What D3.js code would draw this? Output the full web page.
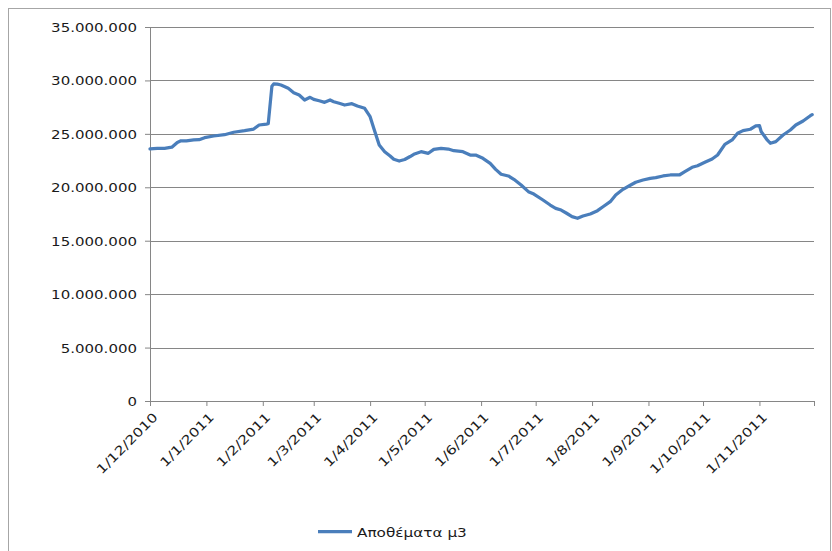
<!DOCTYPE html>
<html>
<head>
<meta charset="utf-8">
<script src="https://cdn.jsdelivr.net/npm/d3@7"></script>
<style>
  html, body { margin: 0; padding: 0; background: #fff; }
  svg { display: block; }
  text { font-family: "DejaVu Sans", sans-serif; fill: #1a1a1a; }
</style>
</head>
<body>
<svg id="chart" width="832" height="551"></svg>
<script>
// Daily reservoir stock (m3), sampled dates
const dates = [
  "2010-12-01","2010-12-05","2010-12-09","2010-12-13","2010-12-16","2010-12-18","2010-12-21","2010-12-25","2010-12-28","2010-12-31",
  "2011-01-05","2011-01-11","2011-01-16","2011-01-22","2011-01-27","2011-01-30","2011-02-03","2011-02-04","2011-02-06","2011-02-07",
  "2011-02-09","2011-02-11","2011-02-15","2011-02-18","2011-02-21","2011-02-24","2011-02-27","2011-03-01","2011-03-04","2011-03-07",
  "2011-03-10","2011-03-12","2011-03-15","2011-03-18","2011-03-22","2011-03-25","2011-03-29","2011-04-01","2011-04-03","2011-04-06",
  "2011-04-09","2011-04-12","2011-04-14","2011-04-17","2011-04-20","2011-04-23","2011-04-25","2011-04-29","2011-05-03","2011-05-06",
  "2011-05-10","2011-05-14","2011-05-17","2011-05-22","2011-05-26","2011-05-29","2011-06-02","2011-06-06","2011-06-09","2011-06-12",
  "2011-06-16","2011-06-19","2011-06-23","2011-06-27","2011-06-30","2011-07-05","2011-07-09","2011-07-12","2011-07-15","2011-07-18",
  "2011-07-21","2011-07-24","2011-07-27","2011-07-31","2011-08-04","2011-08-07","2011-08-11","2011-08-14","2011-08-18","2011-08-22",
  "2011-08-25","2011-08-29","2011-09-02","2011-09-05","2011-09-09","2011-09-13","2011-09-18","2011-09-21","2011-09-25","2011-09-28",
  "2011-10-02","2011-10-06","2011-10-09","2011-10-13","2011-10-17","2011-10-20","2011-10-23","2011-10-27","2011-10-30","2011-11-01",
  "2011-11-02","2011-11-05","2011-11-07","2011-11-10","2011-11-14","2011-11-18","2011-11-21","2011-11-25","2011-11-29","2011-11-30"
];
const stock = [
  23600000,23650000,23650000,23750000,24200000,24350000,24350000,24430000,24450000,24640000,
  24800000,24920000,25150000,25300000,25450000,25830000,25920000,25950000,29450000,29670000,
  29650000,29570000,29260000,28850000,28640000,28170000,28420000,28230000,28100000,27950000,
  28170000,28010000,27860000,27700000,27820000,27610000,27390000,26610000,25520000,23960000,
  23330000,22930000,22620000,22460000,22600000,22880000,23090000,23330000,23180000,23550000,
  23650000,23580000,23420000,23330000,23020000,23020000,22710000,22240000,21680000,21220000,
  21060000,20750000,20210000,19590000,19370000,18810000,18340000,18030000,17870000,17570000,
  17250000,17100000,17310000,17500000,17810000,18180000,18650000,19280000,19810000,20190000,
  20470000,20680000,20840000,20900000,21060000,21150000,21150000,21460000,21870000,22020000,
  22340000,22650000,23020000,24020000,24430000,25050000,25300000,25430000,25740000,25780000,
  25200000,24490000,24120000,24270000,24890000,25360000,25830000,26200000,26700000,26800000
];
const yTicks = [0, 5000000, 10000000, 15000000, 20000000, 25000000, 30000000, 35000000];
const axisStart = "2010-12-01";
const axisEnd = "2011-12-01";
const seriesName = "Αποθέματα μ3";

const parse = d3.utcParse("%Y-%m-%d");
const data = dates.map((d, i) => ({ date: parse(d), value: stock[i] }));

const svg = d3.select("#chart");
const plotLeft = 150, plotRight = 814, plotTop = 27, plotBottom = 401;

// outer chart frame
svg.append("rect")
  .attr("x", 8.5).attr("y", 8.5)
  .attr("width", 822).attr("height", 600)
  .attr("fill", "none").attr("stroke", "#a6a6a6").attr("stroke-width", 1);

const x = d3.scaleUtc().domain([parse(axisStart), parse(axisEnd)]).range([plotLeft, plotRight]);
const y = d3.scaleLinear().domain([0, 35000000]).range([plotBottom, plotTop]);

const grLocale = d3.formatLocale({ decimal: ",", thousands: ".", grouping: [3], currency: ["", "€"] });
const fmtY = grLocale.format(",d");
const fmtX = d3.utcFormat("%-d/%-m/%Y");

// stretch helper for label widths
function stretch(sel, k) {
  sel.each(function () {
    const w = this.getComputedTextLength();
    if (w > 0) {
      this.setAttribute("textLength", (w * k).toFixed(1));
      this.setAttribute("lengthAdjust", "spacingAndGlyphs");
    }
  });
}

// horizontal gridlines
svg.append("g")
  .selectAll("line")
  .data(yTicks.filter(t => t > 0))
  .join("line")
  .attr("x1", plotLeft).attr("x2", plotRight)
  .attr("y1", d => Math.round(y(d)) + 0.5).attr("y2", d => Math.round(y(d)) + 0.5)
  .attr("stroke", "#868686").attr("stroke-width", 1);

// y axis
const yAxis = svg.append("g")
  .attr("transform", `translate(${plotLeft},0)`)
  .call(d3.axisLeft(y).tickValues(yTicks).tickFormat(fmtY).tickSize(5).tickPadding(8));
yAxis.select(".domain").attr("stroke", "#868686");
yAxis.selectAll(".tick line").attr("stroke", "#868686");
const yLabels = yAxis.selectAll(".tick text")
  .attr("font-size", 12.5).attr("font-family", "DejaVu Sans").attr("fill", "#1a1a1a")
  .attr("dy", "0.36em");
stretch(yLabels, 1.2);

// x axis
const months = d3.utcMonth.range(parse(axisStart), d3.utcDay.offset(parse(axisEnd), 1));
const xAxis = svg.append("g")
  .attr("transform", `translate(0,${plotBottom})`)
  .call(d3.axisBottom(x).tickValues(months)
    .tickFormat((d, i) => i === months.length - 1 ? "" : fmtX(d))
    .tickSize(5));
xAxis.select(".domain").attr("stroke", "#868686");
xAxis.selectAll(".tick line").attr("stroke", "#868686");
const xLabels = xAxis.selectAll(".tick text")
  .attr("font-size", 12.5).attr("font-family", "DejaVu Sans").attr("fill", "#1a1a1a")
  .attr("text-anchor", "end")
  .attr("y", 0).attr("dy", 0)
  .attr("transform", "translate(8,17) rotate(-45)");
stretch(xLabels, 1.25);

// series line
const line = d3.line().x(d => x(d.date)).y(d => y(d.value));
svg.append("path")
  .datum(data)
  .attr("d", line)
  .attr("fill", "none")
  .attr("stroke", "#4a7ebb")
  .attr("stroke-width", 3.25)
  .attr("stroke-linejoin", "round")
  .attr("stroke-linecap", "round");

// legend
const legend = svg.append("g").attr("transform", "translate(318,531)");
legend.append("line")
  .attr("x1", 0).attr("x2", 34).attr("y1", 0.5).attr("y2", 0.5)
  .attr("stroke", "#4a7ebb").attr("stroke-width", 3.25);
const legText = legend.append("text")
  .attr("x", 39).attr("y", 6)
  .attr("font-size", 12.5)
  .text(seriesName);
stretch(legText, 1.22);
</script>
</body>
</html>
